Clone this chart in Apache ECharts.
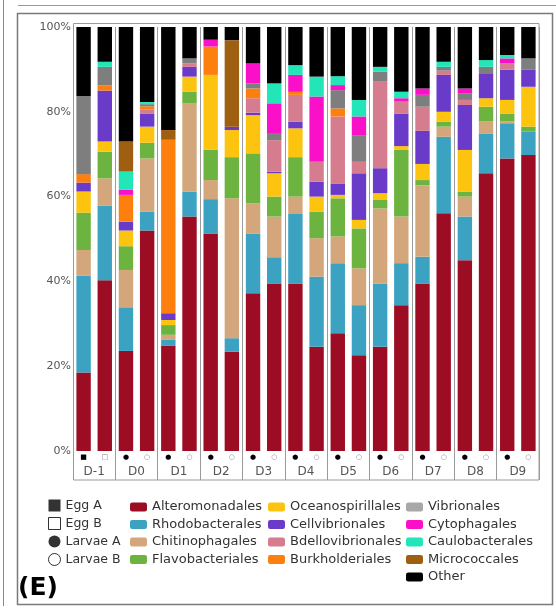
<!DOCTYPE html>
<html><head><meta charset="utf-8">
<script src="https://cdn.jsdelivr.net/npm/echarts@6/dist/echarts.min.js"></script>
<style>html,body{margin:0;padding:0;background:#fff}#c{width:556px;height:608px}</style>
</head><body><div id="c"></div>
<script>
// ---- data ----
const groups = ['D-1','D0','D1','D2','D3','D4','D5','D6','D7','D8','D9'];
const samples = ['D-1 A','D-1 B','D0 A','D0 B','D1 A','D1 B','D2 A','D2 B','D3 A','D3 B','D4 A','D4 B','D5 A','D5 B','D6 A','D6 B','D7 A','D7 B','D8 A','D8 B','D9 A','D9 B'];
const sampleMarks = ['■','□','●','○','●','○','●','○','●','○','●','○','●','○','●','○','●','○','●','○','●','○'];
const yTicks = [0,20,40,60,80,100];
const Alteromonadales   = [18.5,40.3,23.6,52.0,24.8,55.3,51.3,23.4,37.2,39.4,39.5,24.6,27.8,22.6,24.6,34.4,39.5,56.1,45.0,65.5,69.0,69.8];
const Rhodobacterales   = [22.8,17.6,10.3,4.4,1.4,5.9,8.1,3.2,14.1,6.3,16.4,16.5,16.5,11.8,14.9,9.9,6.3,18.0,10.3,9.4,8.3,5.5];
const Chitinophagales   = [6.1,6.4,8.8,12.6,1.2,20.8,4.5,33.0,7.1,9.6,4.1,9.1,6.3,8.7,17.7,11.0,16.9,2.4,4.7,2.8,0.5,0];
const Flavobacteriales  = [8.8,6.3,5.6,3.7,2.3,2.7,7.2,9.7,11.8,4.7,9.3,6.2,9.0,9.4,2.0,15.7,1.2,1.2,1.2,3.5,1.8,1.2];
const Oceanospirillales = [5.0,2.4,3.7,3.8,1.2,3.6,17.6,6.4,9.0,5.5,6.8,3.6,0.8,2.0,1.6,0.9,3.8,2.3,9.8,2.0,3.2,9.4];
const Cellvibrionales   = [2.1,12.0,2.1,3.0,1.6,2.3,0,0.8,0.6,0.4,1.6,3.5,2.7,11.0,5.9,7.7,7.8,8.7,10.6,5.9,7.1,4.0];
const Bdellovibrionales = [0,0,0,1.0,0,0.8,0,0,3.4,7.4,6.3,4.7,15.8,2.7,20.4,2.8,5.7,1.0,1.2,0,1.5,0];
const Burkholderiales   = [2.0,1.2,6.3,0.8,40.9,0,6.7,0,2.3,0,0.7,0,1.9,0,0,0,0,0,0,0,0,0];
const Vibrionales       = [18.4,4.4,0,0.5,0,1.2,0,0,1.2,1.5,0,0,4.3,6.3,2.4,0,2.8,0.9,1.6,1.5,0,2.7];
const Cytophagales      = [0,0,1.2,0,0,0,1.6,0,4.7,7.2,4.0,15.4,1.2,4.4,0,0.8,1.5,0,1.1,0,1.2,0];
const Caulobacterales   = [0,1.2,4.3,0.5,0,0,0,0,0,4.7,2.3,4.7,2.1,3.9,1.1,1.5,0,1.2,0,1.6,0.8,0];
const Micrococcales     = [0,0,7.1,0,2.3,0,0,20.4,0,0,0,0,0,0,0,0,0,0,0,0,0,0];
const Other             = [16.3,8.2,27.0,17.7,24.3,7.4,3.0,3.1,8.6,13.3,9.0,11.7,11.6,17.2,9.4,15.3,14.5,8.2,14.5,7.8,6.6,7.4];

const seriesNames = ['Alteromonadales','Rhodobacterales','Chitinophagales','Flavobacteriales','Oceanospirillales','Cellvibrionales','Bdellovibrionales','Burkholderiales','Vibrionales','Cytophagales','Caulobacterales','Micrococcales','Other'];
const seriesValues = [Alteromonadales,Rhodobacterales,Chitinophagales,Flavobacteriales,Oceanospirillales,Cellvibrionales,Bdellovibrionales,Burkholderiales,Vibrionales,Cytophagales,Caulobacterales,Micrococcales,Other];
const stageNames = ['Egg A','Egg B','Larvae A','Larvae B'];

// ---- styles ----
const colors = ['#9c0c22','#3ba2c2','#d3a77b','#6cb33f','#fdc40f','#6a3bc9','#d57c8e','#fd7f0e','#7e7e7e','#fb10c9','#22e6b8','#9f5f10','#000000'];
const FONT = 'DejaVu Sans';

const chart = echarts.init(document.getElementById('c'), null, {renderer:'canvas'});

const barSeries = seriesNames.map((n,i)=>({
  name:n, type:'bar', stack:'total', xAxisIndex:0, yAxisIndex:0,
  barWidth:'68%', data:seriesValues[i], itemStyle:{color:colors[i]},
  emphasis:{disabled:true}
}));
const stageSeries = stageNames.map(n=>({name:n, type:'scatter', data:[], xAxisIndex:0, yAxisIndex:0}));

const legendCommon = {orient:'vertical', selectedMode:false, itemWidth:17, itemHeight:9, itemGap:3.5,
  textStyle:{fontFamily:FONT, fontSize:13, color:'#333', lineHeight:14}, padding:0};

chart.setOption({
  animation:false,
  backgroundColor:'#fff',
  grid:{left:73, right:17, top:27, bottom:157},
  xAxis:[
    {type:'category', data:samples, gridIndex:0, position:'bottom',
     axisLine:{show:false}, axisTick:{show:false}, splitLine:{show:false},
     axisLabel:{interval:0, margin:2, fontSize:7, lineHeight:8,
       formatter:(v,i)=> (i%2===0 ? '{a|'+sampleMarks[i]+'}' : '{b|'+sampleMarks[i]+'}'),
       rich:{a:{color:'#000',fontSize:7,fontFamily:FONT}, b:{color:'#777',fontSize:7,fontFamily:FONT}}}},
    {type:'category', data:groups, gridIndex:0, position:'bottom',
     axisLine:{show:false},
     axisTick:{show:true, length:29, lineStyle:{color:'#9a9a9a', width:1}},
     splitLine:{show:true, lineStyle:{color:'#9a9a9a', width:1}},
     axisLabel:{interval:0, margin:15, fontFamily:FONT, fontSize:12, color:'#555'}}
  ],
  yAxis:[{type:'value', min:0, max:100, interval:20,
    axisLine:{show:false}, axisTick:{show:false}, splitLine:{show:false},
    axisLabel:{formatter:'{value}%', fontFamily:FONT, fontSize:11, color:'#555', margin:2}}],
  legend:[
    Object.assign({}, legendCommon, {left:48, top:499, itemWidth:12, itemHeight:12, itemGap:5,
      textStyle:{fontFamily:FONT, fontSize:12.5, color:'#333', lineHeight:13},
      data:[
        {name:'Egg A', icon:'rect', itemStyle:{color:'#000', borderWidth:0}},
        {name:'Egg B', icon:'rect', itemStyle:{color:'#fff', borderColor:'#000', borderWidth:1}},
        {name:'Larvae A', icon:'circle', itemStyle:{color:'#000', borderWidth:0}},
        {name:'Larvae B', icon:'circle', itemStyle:{color:'#fff', borderColor:'#000', borderWidth:1}}
      ], itemStyle:{borderWidth:0}}),
    Object.assign({}, legendCommon, {left:130, top:500, data:seriesNames.slice(0,4)}),
    Object.assign({}, legendCommon, {left:268, top:500, data:seriesNames.slice(4,8)}),
    Object.assign({}, legendCommon, {left:406, top:500,
      data:seriesNames.slice(8).map(n=> n==='Vibrionales' ? {name:n, itemStyle:{color:'#a8a8a8'}} : n)})
  ],
  graphic:[
    {type:'line', shape:{x1:3.5,y1:0,x2:3.5,y2:606}, style:{stroke:'#8a8a8a', lineWidth:1}},
    {type:'line', shape:{x1:18,y1:5.5,x2:556,y2:5.5}, style:{stroke:'#9a9a9a', lineWidth:1}},
    {type:'rect', shape:{x:17.5,y:13.5,width:535,height:591}, style:{fill:'none', stroke:'#7a7a7a', lineWidth:1.5}},
    {type:'rect', shape:{x:73.5,y:23.5,width:465.5,height:456.5}, style:{fill:'none', stroke:'#9a9a9a', lineWidth:1}},
    {type:'text', left:18, top:576, style:{text:'(E)', font:'bold 25px "DejaVu Sans"', fill:'#000'}}
  ],
  series: barSeries.concat(stageSeries)
});
</script></body></html>
